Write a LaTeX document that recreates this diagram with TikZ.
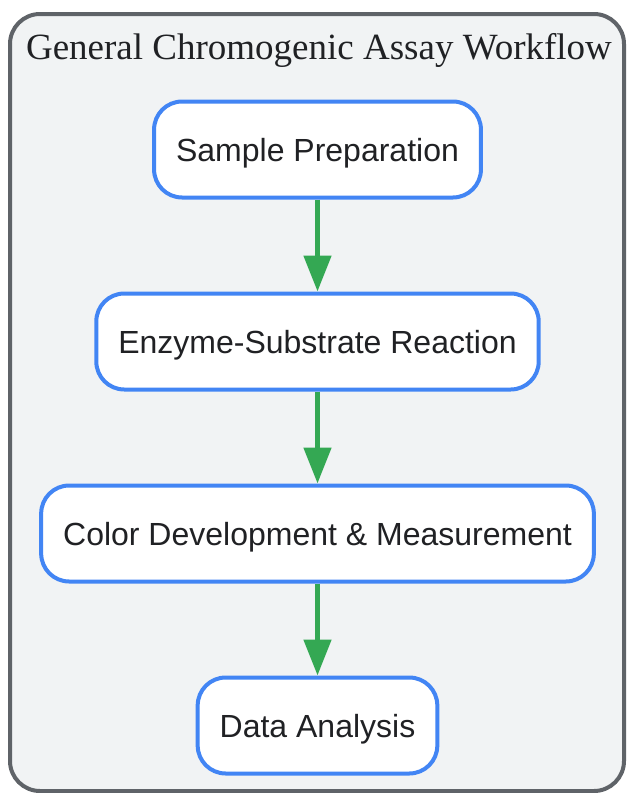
\documentclass[tikz,border=0pt]{standalone}
\usepackage{fontspec}
\setmainfont{Liberation Serif}
\setsansfont{Liberation Sans}
\usepackage{tikz}
\usetikzlibrary{shapes,positioning,calc}
\usetikzlibrary{arrows.meta}
\definecolor{framegray}{HTML}{5F6368}
\definecolor{panelgray}{HTML}{F1F3F4}
\definecolor{stepblue}{HTML}{4285F4}
\definecolor{flowgreen}{HTML}{34A853}
\definecolor{inkgray}{HTML}{202124}
\tikzstyle{flow} = [line width=5pt,flowgreen,-{Triangle[length=36pt,width=27pt]}]

\begin{document}
\begin{tikzpicture}[x=1pt,y=1pt,stage/.style={rectangle, rounded corners=28pt, draw=stepblue, line width=4pt, fill=white, minimum height=96pt, inner xsep=22pt, text height=23pt, text depth=0pt, text=inkgray, font=\sffamily\fontsize{32}{38}\selectfont}, node distance=92pt]
			
			\useasboundingbox (0,0) rectangle (627,-793);
			
			% FRAME
			
			\draw [framegray, line width=4pt, fill=panelgray, rounded corners=30pt] (10,-14) rectangle (624,-791);
			
			\node [text=inkgray, font=\fontsize{37}{44}\selectfont] (assaytitle) at (319,-50) {General Chromogenic Assay Workflow};
			
			% STEPS
			
			\node [stage] (sampleprep) at (317.5,-149.5) {Sample Preparation};
			\node [stage, below=of sampleprep] (reaction) {Enzyme-Substrate Reaction};
			\node [stage, below=of reaction] (colordev) {Color Development \& Measurement};
			\node [stage, below=of colordev] (analysis) {Data Analysis};
			
			% ARROWS
			
			\draw [flow] (sampleprep) -- (reaction);
			\draw [flow] (reaction) -- (colordev);
			\draw [flow] (colordev) -- (analysis);
			
			\end{tikzpicture}
\end{document}
